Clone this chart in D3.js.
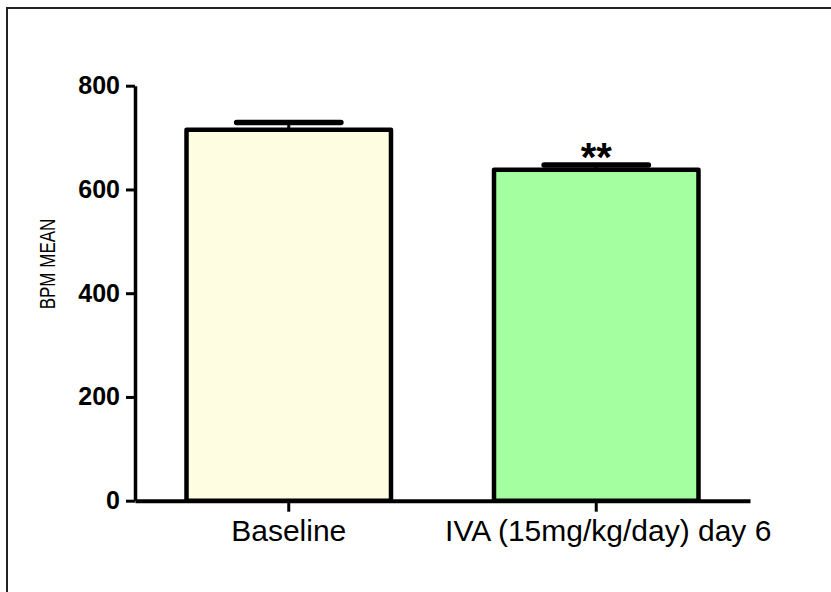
<!DOCTYPE html>
<html>
<head>
<meta charset="utf-8">
<script src="https://cdn.jsdelivr.net/npm/d3@7"></script>
<style>
  html, body { margin: 0; padding: 0; background: #fff; }
  svg { display: block; }
  text { font-family: "Liberation Sans", Arial, sans-serif; }
</style>
</head>
<body>
<svg id="chart" width="831" height="592"></svg>
<script>
// Mean heart rate (BPM) with SEM, before and after treatment
const categories = ["Baseline", "IVA (15mg/kg/day) day 6"];
const means = [715, 638];
const sems = [14, 9];
const fills = ["#FFFDE1", "#A3FFA0"];
const significance = ["", "**"];
const yTicks = [0, 200, 400, 600, 800];
const yLabel = "BPM MEAN";

const svg = d3.select("#chart");

// outer frame (right and bottom edges fall outside the canvas)
svg.append("rect")
  .attr("x", 7).attr("y", 8)
  .attr("width", 900).attr("height", 700)
  .attr("fill", "none")
  .attr("stroke", "#222")
  .attr("stroke-width", 2);

const x = d3.scaleBand()
  .domain(categories)
  .range([135, 750])
  .paddingInner(0.335)
  .paddingOuter(0.1675);

const y = d3.scaleLinear()
  .domain([0, 800])
  .range([500.7, 85.7]);

// bars
svg.append("g").selectAll("rect")
  .data(categories)
  .join("rect")
  .attr("x", d => x(d))
  .attr("y", (d, i) => y(means[i]))
  .attr("width", x.bandwidth())
  .attr("height", (d, i) => y(0) - y(means[i]))
  .attr("fill", (d, i) => fills[i])
  .attr("stroke", "#000")
  .attr("stroke-width", 4.5)
  .attr("stroke-linejoin", "round");

// error bars (upper SEM)
const capHalf = x.bandwidth() * 0.255;
const eb = svg.append("g")
  .attr("stroke", "#000")
  .attr("stroke-linecap", "round");
categories.forEach((c, i) => {
  const cx = x(c) + x.bandwidth() / 2;
  eb.append("line")
    .attr("x1", cx).attr("x2", cx)
    .attr("y1", y(means[i])).attr("y2", y(means[i] + sems[i]))
    .attr("stroke-width", 3);
  eb.append("line")
    .attr("x1", cx - capHalf).attr("x2", cx + capHalf)
    .attr("y1", y(means[i] + sems[i])).attr("y2", y(means[i] + sems[i]))
    .attr("stroke-width", 5.5);
});

// significance markers
svg.append("g").selectAll("text")
  .data(categories)
  .join("text")
  .attr("x", d => x(d) + x.bandwidth() / 2)
  .attr("y", (d, i) => y(means[i] + sems[i]) + 6)
  .attr("text-anchor", "middle")
  .attr("font-size", 40)
  .attr("font-weight", "bold")
  .text((d, i) => significance[i]);

// y axis
const yAxis = svg.append("g")
  .attr("transform", "translate(135,0)")
  .call(d3.axisLeft(y).tickValues(yTicks).tickSize(9).tickSizeOuter(0).tickPadding(6));
yAxis.select(".domain").attr("stroke-width", 3.5);
yAxis.selectAll(".tick line").attr("stroke-width", 3);
yAxis.selectAll(".tick text")
  .attr("font-size", 25)
  .attr("font-weight", "bold")
  .attr("fill", "#000")
  .attr("font-family", "Liberation Sans, Arial, sans-serif");

// x axis
const xAxis = svg.append("g")
  .attr("transform", `translate(0,${y(0)})`)
  .call(d3.axisBottom(x).tickSize(11).tickSizeOuter(0).tickPadding(8));
xAxis.select(".domain").attr("stroke-width", 4);
xAxis.selectAll(".tick line").attr("stroke-width", 3);
xAxis.selectAll(".tick text")
  .attr("font-size", 30)
  .attr("fill", "#000")
  .attr("font-family", "Liberation Sans, Arial, sans-serif")
  .attr("dx", (d, i) => i === categories.length - 1 ? 12 : 0);

// y axis title
svg.append("text")
  .attr("transform", "translate(55,264) rotate(-90) scale(1,1.25)")
  .attr("text-anchor", "middle")
  .attr("font-size", 17)
  .attr("fill", "#000")
  .text(yLabel);
</script>
</body>
</html>
